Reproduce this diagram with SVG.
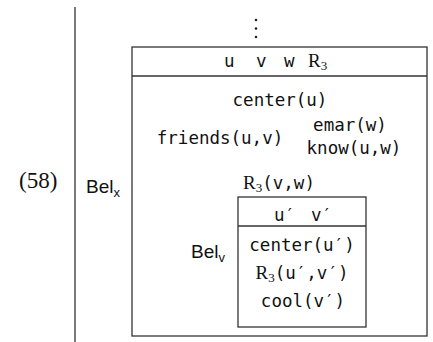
<svg xmlns="http://www.w3.org/2000/svg" width="433" height="342" viewBox="0 0 433 342">
<style>
.box{fill:#fff;stroke:#333;stroke-width:1.3}
.ln{stroke:#333;stroke-width:1.3;fill:none}
.tt{font-family:"DejaVu Sans Mono","Liberation Mono",monospace;font-size:17.5px;fill:#111}
.rm{font-family:"Liberation Serif","DejaVu Serif",serif;font-size:19px;fill:#111}
.sf{font-family:"Liberation Sans","DejaVu Sans",sans-serif;font-size:19px;fill:#111}
.sub{font-size:13px}
.c{text-anchor:middle}
</style>
<rect width="433" height="342" fill="#fff"/>
<g id="label"><text class="rm" x="19" y="188" style="font-size:23px">(58)</text></g>
<g id="connectors"><line class="ln" x1="75" y1="7" x2="75" y2="342"/></g>
<g id="dots" fill="#222"><circle cx="256" cy="20" r="1.3"/><circle cx="256" cy="28.5" r="1.3"/><circle cx="256" cy="37" r="1.3"/></g>
<g id="outer">
<rect class="box" x="132" y="47" width="295" height="289"/>
<line class="ln" x1="132" y1="76" x2="427" y2="76"/>
<text class="sf" x="86" y="193">Bel<tspan class="sub" dy="4">x</tspan></text>
<text class="tt" x="224" y="67">u</text>
<text class="tt" x="256" y="67">v</text>
<text class="tt" x="284" y="67">w</text>
<text class="rm" x="308" y="67">R<tspan class="sub" dy="3">3</tspan></text>
<text class="tt c" x="280" y="106">center(u)</text>
<text class="tt c" x="220" y="144">friends(u,v)</text>
<text class="tt c" x="350" y="131">emar(w)</text>
<text class="tt c" x="354" y="154">know(u,w)</text>
<text class="tt c" x="279" y="189"><tspan class="rm">R</tspan><tspan class="rm sub" dy="3">3</tspan><tspan dy="-3">(v,w)</tspan></text>
</g>
<g id="inner">
<rect class="box" x="238" y="197" width="128" height="130"/>
<line class="ln" x1="238" y1="226" x2="366" y2="226"/>
<text class="sf" x="191" y="258">Bel<tspan class="sub" dy="4">v</tspan></text>
<text class="tt" x="274" y="221">u′</text>
<text class="tt" x="311" y="221">v′</text>
<text class="tt c" x="302" y="251">center(u′)</text>
<text class="tt c" x="302" y="279"><tspan class="rm">R</tspan><tspan class="rm sub" dy="3">3</tspan><tspan dy="-3">(u′,v′)</tspan></text>
<text class="tt c" x="303" y="307">cool(v′)</text>
</g>
</svg>
